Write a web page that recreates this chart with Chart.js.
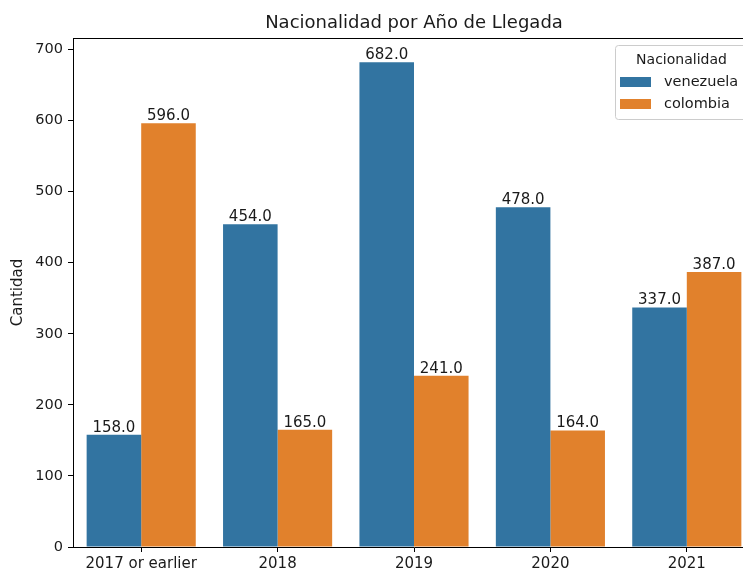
<!DOCTYPE html>
<html>
<head>
<meta charset="utf-8">
<script src="https://cdn.jsdelivr.net/npm/chart.js@4/dist/chart.umd.min.js"></script>
<style>
html,body{margin:0;padding:0;overflow:hidden;background:#fff;width:743px;height:571px;}
canvas{display:block;}
</style>
</head>
<body>
<canvas id="c" width="770" height="571" style="width:770px;height:571px"></canvas>
<script>
const categories = ["2017 or earlier", "2018", "2019", "2020", "2021"];
const venezuela = [158, 454, 682, 478, 337];
const colombia = [596, 165, 241, 164, 387];
const seriesNames = ["venezuela", "colombia"];
const yTicks = [0, 100, 200, 300, 400, 500, 600, 700];
const titleText = "Nacionalidad por Año de Llegada";
const legendTitle = "Nacionalidad";
const yLabel = "Cantidad";

const colors = ["#3274A1", "#E1812C"];
const FONT = "'DejaVu Sans', sans-serif";

const overlay = {
  id: 'overlay',
  afterDatasetsDraw(chart) {
    const ctx = chart.ctx;
    const a = chart.chartArea;
    ctx.save();
    // data labels
    ctx.font = "15px " + FONT;
    ctx.fillStyle = "#1a1a1a";
    ctx.textAlign = "center";
    ctx.textBaseline = "alphabetic";
    chart.data.datasets.forEach((ds, i) => {
      const meta = chart.getDatasetMeta(i);
      meta.data.forEach((bar, j) => {
        ctx.fillText(ds.data[j].toFixed(1), bar.x, bar.y - 3);
      });
    });
    // top spine
    ctx.strokeStyle = "#000";
    ctx.lineWidth = 1;
    ctx.beginPath();
    ctx.moveTo(a.left, a.top + 0.5);
    ctx.lineTo(a.right, a.top + 0.5);
    ctx.stroke();
    // title
    ctx.font = "18px " + FONT;
    ctx.fillStyle = "#1a1a1a";
    ctx.textBaseline = "middle";
    ctx.fillText(titleText, (a.left + a.right) / 2, 23);
    // legend
    const lx = 615, ly = 45, lw = 133, lh = 74;
    ctx.fillStyle = "rgba(255,255,255,0.8)";
    ctx.strokeStyle = "#cccccc";
    ctx.beginPath();
    ctx.roundRect(lx + 0.5, ly + 0.5, lw, lh, 3);
    ctx.fill();
    ctx.stroke();
    ctx.font = "14px " + FONT;
    ctx.fillStyle = "#1a1a1a";
    ctx.textAlign = "center";
    ctx.fillText(legendTitle, lx + lw / 2, 60);
    const rows = [82, 104];
    ctx.textAlign = "left";
    ctx.font = "14.5px " + FONT;
    seriesNames.forEach((n, i) => {
      ctx.fillStyle = colors[i];
      ctx.fillRect(620, rows[i] - 5, 31, 10);
      ctx.fillStyle = "#1a1a1a";
      ctx.fillText(n, 664, rows[i]);
    });
    ctx.restore();
  }
};

new Chart(document.getElementById('c'), {
  type: 'bar',
  data: {
    labels: categories,
    datasets: [
      { label: seriesNames[0], data: venezuela, backgroundColor: colors[0], borderWidth: 0 },
      { label: seriesNames[1], data: colombia, backgroundColor: colors[1], borderWidth: 0 }
    ]
  },
  options: {
    responsive: false,
    animation: false,
    devicePixelRatio: 1,
    layout: { padding: { left: 0, right: 15, top: 38, bottom: 0 } },
    datasets: { bar: { categoryPercentage: 0.8, barPercentage: 1.0 } },
    plugins: {
      legend: { display: false },
      title: { display: false },
      tooltip: { enabled: false }
    },
    scales: {
      x: {
        grid: { display: true, offset: false, drawOnChartArea: false, drawTicks: true, tickLength: 5, tickColor: "#000" },
        border: { display: true, color: "#000", width: 1 },
        ticks: { color: "#1a1a1a", font: { family: FONT, size: 15 }, padding: 3, maxRotation: 0 },
        afterFit(s) { s.height = 24; }
      },
      y: {
        min: 0,
        max: 716.1,
        afterBuildTicks(s) { s.ticks = yTicks.map(v => ({ value: v })); },
        grid: { display: true, drawOnChartArea: false, drawTicks: true, tickLength: 5, tickColor: "#000" },
        border: { display: true, color: "#000", width: 1 },
        ticks: { color: "#1a1a1a", font: { family: FONT, size: 14.5 }, padding: 5 },
        title: { display: true, text: yLabel, color: "#1a1a1a", font: { family: FONT, size: 15 }, padding: { top: 9, bottom: 0 } },
        afterFit(s) { s.width = 73; }
      }
    }
  },
  plugins: [overlay]
});
</script>
</body>
</html>
